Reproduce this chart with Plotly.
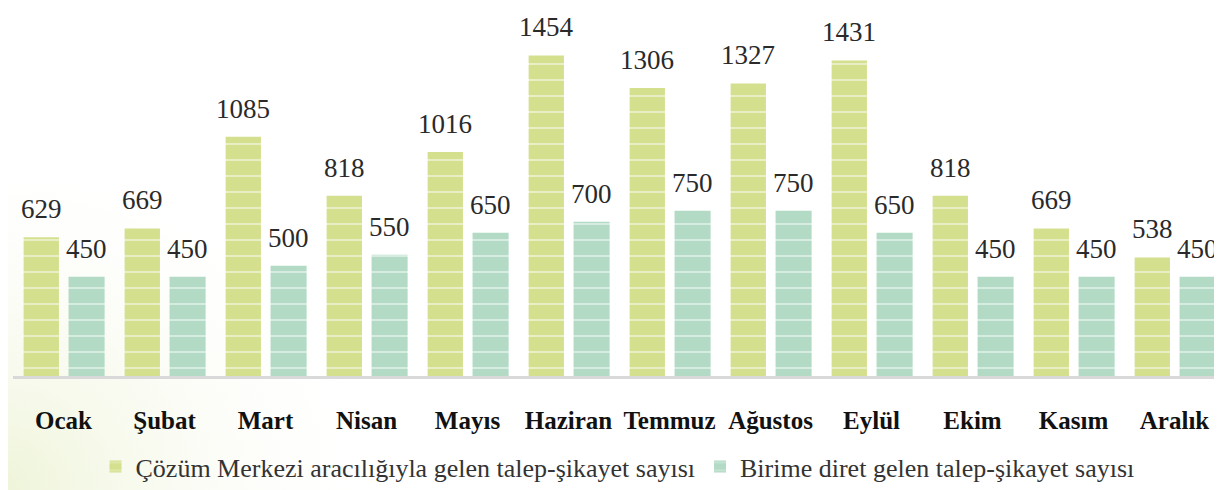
import plotly.graph_objects as go

months = ["Ocak", "Şubat", "Mart", "Nisan", "Mayıs", "Haziran", "Temmuz",
          "Ağustos", "Eylül", "Ekim", "Kasım", "Aralık"]
cozum_merkezi = [629, 669, 1085, 818, 1016, 1454, 1306, 1327, 1431, 818, 669, 538]
birime_direkt = [450, 450, 500, 550, 650, 700, 750, 750, 650, 450, 450, 450]
series_names = ["Çözüm Merkezi aracılığıyla gelen talep-şikayet sayısı",
                "Birime diret gelen talep-şikayet sayısı"]

GREEN = "#d5e08f"
TEAL = "#b2dac4"
xs = list(range(len(months)))

W1, O1 = 0.35, -0.395
W2, O2 = 0.357, 0.05

fig = go.Figure()
for vals, name, col, w, o in [(cozum_merkezi, series_names[0], GREEN, W1, O1),
                              (birime_direkt, series_names[1], TEAL, W2, O2)]:
    fig.add_trace(go.Bar(
        x=xs, y=vals, name=name, width=w, offset=o,
        marker=dict(color=col, line=dict(width=0),
                    pattern=dict(shape="-", fgcolor="white", bgcolor=col,
                                 size=16, solidity=0.12, fillmode="overlay")),
        hoverinfo="skip",
    ))

annotations = []
for vals, w, o in [(cozum_merkezi, W1, O1), (birime_direkt, W2, O2)]:
    for i, v in enumerate(vals):
        annotations.append(dict(
            x=i + o + w / 2, y=v, xref="x", yref="y", text=str(v),
            showarrow=False, yanchor="bottom", yshift=11,
            font=dict(family="Liberation Serif", size=27, color="#2a2a2a"),
        ))

bg_svg = ("data:image/svg+xml;utf8,"
          "<svg xmlns='http://www.w3.org/2000/svg' width='400' height='400'>"
          "<defs><radialGradient id='g' cx='0' cy='1' r='1'>"
          "<stop offset='0' stop-color='%23eef4d8'/>"
          "<stop offset='1' stop-color='%23ffffff' stop-opacity='0'/>"
          "</radialGradient></defs>"
          "<rect width='400' height='400' fill='url(%23g)'/></svg>")

fig.update_layout(
    width=1214, height=482,
    margin=dict(l=5, r=0, t=0, b=114),
    paper_bgcolor="white", plot_bgcolor="rgba(0,0,0,0)",
    barmode="overlay",
    showlegend=True,
    legend=dict(orientation="h", x=0.5, xanchor="center", y=-0.247, yanchor="middle",
                font=dict(family="Liberation Serif", size=26, color="#333333"),
                itemwidth=30, traceorder="normal", bgcolor="rgba(0,0,0,0)"),
    annotations=annotations,
    images=[dict(source=bg_svg, xref="paper", yref="paper", x=-0.01, y=-0.31,
                 sizex=0.33, sizey=1.0, xanchor="left", yanchor="bottom",
                 sizing="stretch", layer="below")],
    xaxis=dict(range=[-0.5, 11.47], tickvals=xs, ticktext=months,
               showgrid=False, zeroline=False, showline=True,
               linecolor="#d9d9d9", linewidth=2.5,
               ticks="outside", ticklen=20, tickcolor="rgba(0,0,0,0)",
               tickfont=dict(family="Liberation Serif", size=25, color="#111111", weight="bold")),
    yaxis=dict(range=[0, 1669], visible=False, showgrid=False, zeroline=False),
)

fig.write_html("out.html")
